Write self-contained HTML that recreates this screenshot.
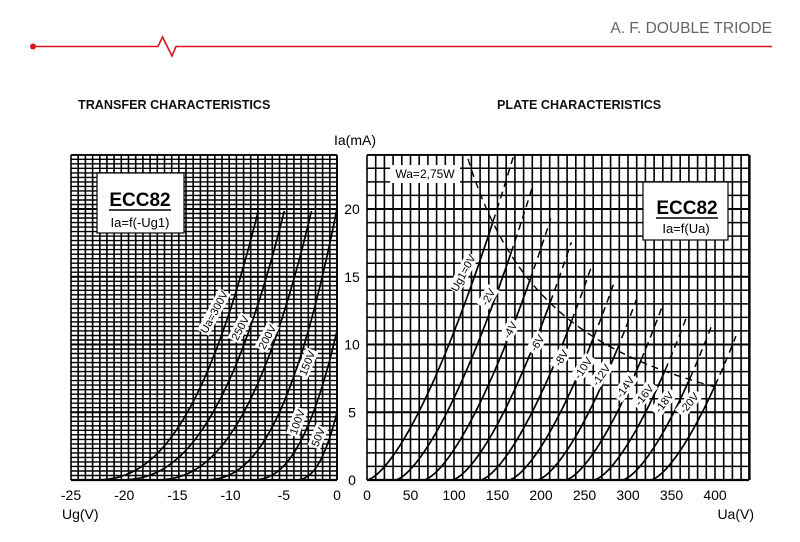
<!DOCTYPE html>
<html><head><meta charset="utf-8">
<style>
html,body{margin:0;padding:0;background:#fff;}
svg{display:block;font-family:"Liberation Sans",Arial,sans-serif;}
</style></head>
<body>
<svg id="s" width="800" height="542" viewBox="0 0 800 542" xmlns="http://www.w3.org/2000/svg">
<rect width="800" height="542" fill="#fff"/>
<text x="772" y="33" text-anchor="end" font-size="15.5" fill="#666">A. F. DOUBLE TRIODE</text>
<circle cx="33" cy="46.5" r="3" fill="#d9141c"/>
<path d="M33 46.5 H158 L162.5 37 L172 56 L176 46.5 H772" fill="none" stroke="#d9141c" stroke-width="1.6"/>
<text x="78" y="109" font-size="12.6" font-weight="bold" fill="#111">TRANSFER CHARACTERISTICS</text>
<text x="497" y="109" font-size="12.6" font-weight="bold" fill="#111">PLATE CHARACTERISTICS</text>
<g id="g"></g>
</svg>
<script>
var g=document.getElementById('g'),h='';
function L(x1,y1,x2,y2,w,extra){h+='<line x1="'+x1+'" y1="'+y1+'" x2="'+x2+'" y2="'+y2+'" stroke="#000" stroke-width="'+w+'" '+(extra||'')+'/>';}
function T(x,y,t,s,a,extra){h+='<text x="'+x+'" y="'+y+'" font-size="'+s+'" text-anchor="'+(a||'middle')+'" '+(extra||'')+'>'+t+'</text>';}
var LX0=71,LX1=337,TOP=155,BOT=480;
for(var x=LX0;x<=LX1+0.5;x+=7.19)L(x.toFixed(1),TOP,x.toFixed(1),BOT,1.6);
L(LX1,TOP,LX1,BOT,1.8);
var PY=13.55;
for(var i=0;i<=72;i++){var y=BOT-i*PY/3;if(y<TOP-0.5)break;L(LX0,y.toFixed(1),LX1,y.toFixed(1),(i%15==0)?2:1.4);}
L(LX0,TOP,LX1,TOP,1.8);L(LX0,BOT,LX1,BOT,2.2);
var RX0=367,RX1=749,PX=0.87;
for(var v=0;RX0+v*PX<=RX1+1;v+=10)L((RX0+v*PX).toFixed(1),TOP,(RX0+v*PX).toFixed(1),BOT,1.6);
L(RX1,TOP,RX1,BOT,1.8);
for(var i=0;i<=24;i++){var y=BOT-i*PY;if(y<TOP-0.5)break;L(RX0,y.toFixed(1),RX1,y.toFixed(1),(i%5==0)?2:1.5);}
L(RX0,TOP,RX1,TOP,1.8);L(RX0,BOT,RX1,BOT,2.2);
var xl=[-25,-20,-15,-10,-5,0];
xl.forEach(function(v){T((LX0+(v+25)*10.64).toFixed(1),500,v,14);});
for(var v=0;v<=400;v+=50)T((RX0+v*PX).toFixed(1),500,v,14);
[0,5,10,15,20].forEach(function(v){T(352,BOT-v*PY+5,v,14);});
T(62,519,'Ug(V)',14,'start');T(754,519,'Ua(V)',14,'end');T(355,145,'Ia(mA)',14);
function lx(u){return LX0+(u+25)*10.64;}
function yy(i){return BOT-i*PY;}
var lc=[[-23.1,9.04],[-20.75,9.1],[-17.4,8.64],[-12.7,7.29],[-8.2,5.98],[-4,4]];
lc.forEach(function(c){var k=5/Math.pow(c[1],2.5),d='';
 for(var u=c[0];u<=0.001;u+=0.1){var ia=k*Math.pow(Math.max(u-c[0],0),2.5);if(ia>20.05)break;d+=(d?'L':'M')+lx(u).toFixed(1)+' '+yy(ia).toFixed(1);}
 h+='<path d="'+d+'" fill="none" stroke="#000" stroke-width="1.7"/>';});
function rx(u){return RX0+u*PX;}
var dash='stroke-dasharray="7,5"';
for(var n=0;n<=10;n++){var ug=2*n,a0=16.3*ug,k=19.1/Math.pow(145,1.5),d='',up=0;
 for(var u=a0;u<=420;u+=1){var ia=k*Math.pow(u-a0,1.5);d+=(d?'L':'M')+rx(u).toFixed(1)+' '+yy(ia).toFixed(1);if(ia*u>=2750){up=u;break;}}
 h+='<path d="'+d+'" fill="none" stroke="#000" stroke-width="1.7"/>';
 var d2='';for(var u=up;u<=up+24;u+=1){var ia=k*Math.pow(u-a0,1.5);if(ia>23.9)break;d2+=(d2?'L':'M')+rx(u).toFixed(1)+' '+yy(ia).toFixed(1);}
 h+='<path d="'+d2+'" fill="none" stroke="#000" stroke-width="1.5" '+dash+'/>';}
var d3='';for(var u=116;u<=405;u+=2){d3+=(d3?'L':'M')+rx(u).toFixed(1)+' '+yy(2750/u).toFixed(1);}
h+='<path d="'+d3+'" fill="none" stroke="#000" stroke-width="1.4" '+dash+'/>';
function RL(cx,cy,t,ang,s){var w=t.length*s*0.56+4;h+='<g transform="translate('+cx+','+cy+') rotate('+ang+')"><rect x="'+(-w/2)+'" y="'+(-s*0.6)+'" width="'+w+'" height="'+(s*1.2)+'" fill="#fff"/><text x="0" y="'+(s*0.36)+'" font-size="'+s+'" text-anchor="middle">'+t+'</text></g>';}
RL(214,312,'Ua=300V',-62,11);RL(240,328,'250V',-62,11);RL(267,337,'200V',-62,11);
RL(307,363,'150V',-68,11);RL(297,422,'100V',-70,11);RL(318,437,'50V',-68,11);
RL(463,273,'Ug1=0V',-62,11);RL(488,297,'-2V',-60,11);RL(510,330,'-4V',-60,11);RL(537,343,'-6V',-58,11);
RL(561,358,'-8V',-58,11);RL(583,368,'-10V',-56,11);RL(601,375,'-12V',-55,11);RL(625,387,'-14V',-55,11);
RL(644,395,'-16V',-52,11);RL(664,402,'-18V',-52,11);RL(689,403,'-20V',-50,11);
h+='<rect x="97" y="173" width="87" height="60" fill="#fff" stroke="#000" stroke-width="1.2"/>';
T(140,206,'ECC82',19,'middle','font-weight="bold"');L(109,210,171,210,1.5);T(140,227,'Ia=f(-Ug1)',13);
h+='<rect x="643" y="182" width="85" height="58" fill="#fff" stroke="#000" stroke-width="1.2"/>';
T(687,214,'ECC82',19,'middle','font-weight="bold"');L(656,218,718,218,1.5);T(686,233,'Ia=f(Ua)',13);
h+='<rect x="390" y="165" width="70" height="18" fill="#fff"/>';T(425,178,'Wa=2,75W',12);
g.innerHTML=h;
</script>
</body></html>
